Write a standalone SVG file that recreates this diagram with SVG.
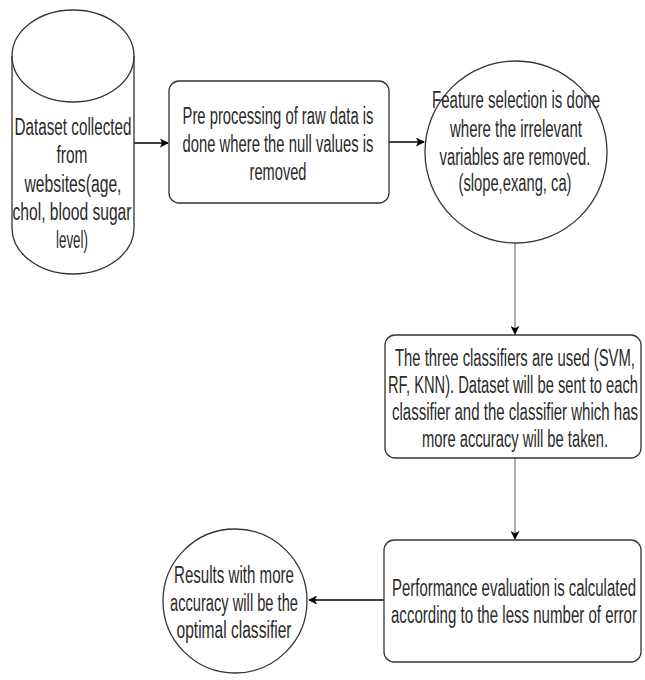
<svg xmlns="http://www.w3.org/2000/svg" width="645" height="680" viewBox="0 0 645 680">
<defs>
<style>
.shape{fill:#fff;stroke:#333;stroke-width:1.3}
.t{font-family:"Liberation Sans",Arial,sans-serif;font-size:23px;fill:#2a2a2a;text-anchor:middle}
.c{fill:none;stroke:#000;stroke-width:1.3}
.g{fill:none;stroke:#999;stroke-width:1.6}
</style>
<marker id="ah" viewBox="0 0 10 10" refX="9" refY="5" markerWidth="9" markerHeight="9" markerUnits="userSpaceOnUse" orient="auto">
<path d="M0,0 L10,5 L0,10 L2.5,5 Z" fill="#000"/>
</marker>
</defs>
<rect width="645" height="680" fill="#fff"/>
<g id="connectors">
<line class="c" x1="134" y1="143" x2="168" y2="143" marker-end="url(#ah)"/>
<line class="c" x1="389" y1="142" x2="424" y2="142" marker-end="url(#ah)"/>
<line class="g" x1="515" y1="243" x2="515" y2="334" marker-end="url(#ah)"/>
<line class="g" x1="515" y1="458" x2="515" y2="539" marker-end="url(#ah)"/>
<line class="c" x1="384" y1="600" x2="309" y2="600" marker-end="url(#ah)"/>
</g>
<g id="dataset">
<path class="shape" d="M12,56 A61,46 0 0,1 134,56 L134,228 A61,46 0 0,1 12,228 Z"/>
<path class="shape" style="fill:none" d="M12,56 A61,46 0 0,0 134,56"/>
<text class="t" x="73" y="135" textLength="117" lengthAdjust="spacingAndGlyphs">Dataset collected</text>
<text class="t" x="72" y="163" textLength="31" lengthAdjust="spacingAndGlyphs">from</text>
<text class="t" x="73" y="192" textLength="97" lengthAdjust="spacingAndGlyphs">websites(age,</text>
<text class="t" x="72" y="220" textLength="119" lengthAdjust="spacingAndGlyphs">chol, blood sugar</text>
<text class="t" x="72" y="248" textLength="32" lengthAdjust="spacingAndGlyphs">level)</text>
</g>
<g id="preprocess">
<rect class="shape" x="169" y="81" width="220" height="122" rx="10"/>
<text class="t" x="278" y="124" textLength="191" lengthAdjust="spacingAndGlyphs">Pre processing of raw data is</text>
<text class="t" x="278" y="152" textLength="191" lengthAdjust="spacingAndGlyphs">done where the null values is</text>
<text class="t" x="278" y="180" textLength="57" lengthAdjust="spacingAndGlyphs">removed</text>
</g>
<g id="feature">
<circle class="shape" cx="516" cy="152" r="91"/>
<text class="t" x="516" y="108" textLength="168" lengthAdjust="spacingAndGlyphs">Feature selection is done</text>
<text class="t" x="516" y="137" textLength="132" lengthAdjust="spacingAndGlyphs">where the irrelevant</text>
<text class="t" x="515" y="165" textLength="151" lengthAdjust="spacingAndGlyphs">variables are removed.</text>
<text class="t" x="515" y="191" textLength="113" lengthAdjust="spacingAndGlyphs">(slope,exang, ca)</text>
</g>
<g id="classifiers">
<rect class="shape" x="385" y="335" width="256" height="123" rx="10"/>
<text class="t" x="515" y="366" textLength="240" lengthAdjust="spacingAndGlyphs">The three classifiers are used (SVM,</text>
<text class="t" x="513" y="393" textLength="250" lengthAdjust="spacingAndGlyphs">RF, KNN). Dataset will be sent to each</text>
<text class="t" x="515" y="420" textLength="246" lengthAdjust="spacingAndGlyphs">classifier and the classifier which has</text>
<text class="t" x="515" y="447" textLength="186" lengthAdjust="spacingAndGlyphs">more accuracy will be taken.</text>
</g>
<g id="evaluation">
<rect class="shape" x="384" y="540" width="257" height="122" rx="10"/>
<text class="t" x="514" y="596" textLength="244" lengthAdjust="spacingAndGlyphs">Performance evaluation is calculated</text>
<text class="t" x="514" y="623" textLength="246" lengthAdjust="spacingAndGlyphs">according to the less number of error</text>
</g>
<g id="results">
<circle class="shape" cx="235" cy="601" r="72"/>
<text class="t" x="234" y="583" textLength="120" lengthAdjust="spacingAndGlyphs">Results with more</text>
<text class="t" x="234" y="611" textLength="128" lengthAdjust="spacingAndGlyphs">accuracy will be the</text>
<text class="t" x="234" y="638" textLength="115" lengthAdjust="spacingAndGlyphs">optimal classifier</text>
</g>
</svg>
